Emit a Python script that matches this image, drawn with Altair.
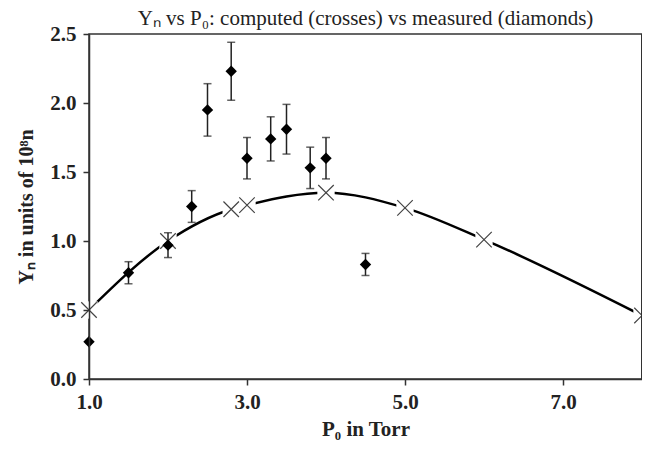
import altair as alt
import pandas as pd

# computed (crosses)
calc_p = [1.0, 2.0, 2.8, 3.0, 4.0, 5.0, 6.0, 8.0]
calc_y = [0.50, 1.00, 1.23, 1.26, 1.35, 1.24, 1.01, 0.46]

# measured (diamonds)
meas_p = [1.0, 1.5, 2.0, 2.3, 2.5, 2.8, 3.0, 3.3, 3.5, 3.8, 4.0, 4.5]
meas_y = [0.27, 0.77, 0.97, 1.25, 1.95, 2.23, 1.60, 1.74, 1.81, 1.53, 1.60, 0.83]
meas_err = [0.0, 0.08, 0.09, 0.115, 0.19, 0.21, 0.15, 0.16, 0.18, 0.15, 0.15, 0.08]

calc = pd.DataFrame({"p": calc_p, "y": calc_y})
meas = pd.DataFrame({"p": meas_p, "y": meas_y, "e": meas_err})
meas["lo"] = meas["y"] - meas["e"]
meas["hi"] = meas["y"] + meas["e"]
errs = meas[meas["e"] > 0]

FONT = "Liberation Serif"

xs = alt.Scale(domain=[1, 8], nice=False, zero=False)
ys = alt.Scale(domain=[0, 2.5], nice=False)

xax = alt.Axis(values=[1, 3, 5, 7], format=".1f", title="P₀ in Torr", grid=False,
               labelFont=FONT, labelFontSize=21, labelFontWeight="bold", labelColor="#222",
               titleFont=FONT, titleFontSize=21, titleFontWeight="bold", titleColor="#222",
               domainColor="#333", domainWidth=1.5, tickColor="#333", tickWidth=1.5, tickSize=6,
               labelPadding=6, titlePadding=6, labelFlush=False, zindex=1)
yax = alt.Axis(values=[0, 0.5, 1.0, 1.5, 2.0, 2.5], format=".1f", title="Yₙ in units of 10⁸n", grid=False,
               labelFont=FONT, labelFontSize=21, labelFontWeight="bold", labelColor="#222",
               titleFont=FONT, titleFontSize=20, titleFontWeight="bold", titleColor="#222",
               domainColor="#333", domainWidth=1.5, tickColor="#333", tickWidth=1.5, tickSize=6,
               labelPadding=7, titlePadding=13, labelFlush=False, zindex=1)

X = alt.X("p:Q", scale=xs, axis=xax)
Y = alt.Y("y:Q", scale=ys, axis=yax)

line = alt.Chart(calc).mark_line(color="black", strokeWidth=2.5, interpolate="monotone").encode(x=X, y=Y)
gaps = alt.Chart(calc).mark_point(shape="square", filled=True, color="white", opacity=1, size=300).encode(x=X, y=Y)
crosses = alt.Chart(calc).mark_point(shape="M-1,-1L1,1M-1,1L1,-1", color="#444", strokeWidth=1.2,
                                     size=240, opacity=1).encode(x=X, y=Y)
bars = alt.Chart(errs).mark_rule(color="#222", strokeWidth=1.5).encode(x="p:Q", y="lo:Q", y2="hi:Q")
cap_lo = alt.Chart(errs).mark_tick(color="#222", orient="horizontal", size=8, thickness=1.5).encode(x="p:Q", y="lo:Q")
cap_hi = alt.Chart(errs).mark_tick(color="#222", orient="horizontal", size=8, thickness=1.5).encode(x="p:Q", y="hi:Q")
diamonds = alt.Chart(meas).mark_point(shape="diamond", filled=True, color="black", opacity=1, size=130).encode(x=X, y=Y)
border = alt.Chart(calc).mark_rule(color="#333", strokeWidth=1.5).encode(x=alt.datum(8), y=alt.datum(0), y2=alt.datum(2.5))

chart = alt.layer(line, gaps, crosses, bars, cap_lo, cap_hi, diamonds, border).properties(
    width=553, height=345,
    title=alt.TitleParams("Yₙ vs P₀: computed (crosses) vs measured (diamonds)", font=FONT, fontSize=21,
                          fontWeight="normal", color="#222", anchor="middle", offset=-6),
    autosize=alt.AutoSizeParams(type="none"),
    padding={"left": 81, "top": 26, "right": 0, "bottom": 62},
).configure_view(stroke="#333", strokeWidth=1.5)

chart.save("out.html", embed_options={"renderer": "svg", "actions": False})
